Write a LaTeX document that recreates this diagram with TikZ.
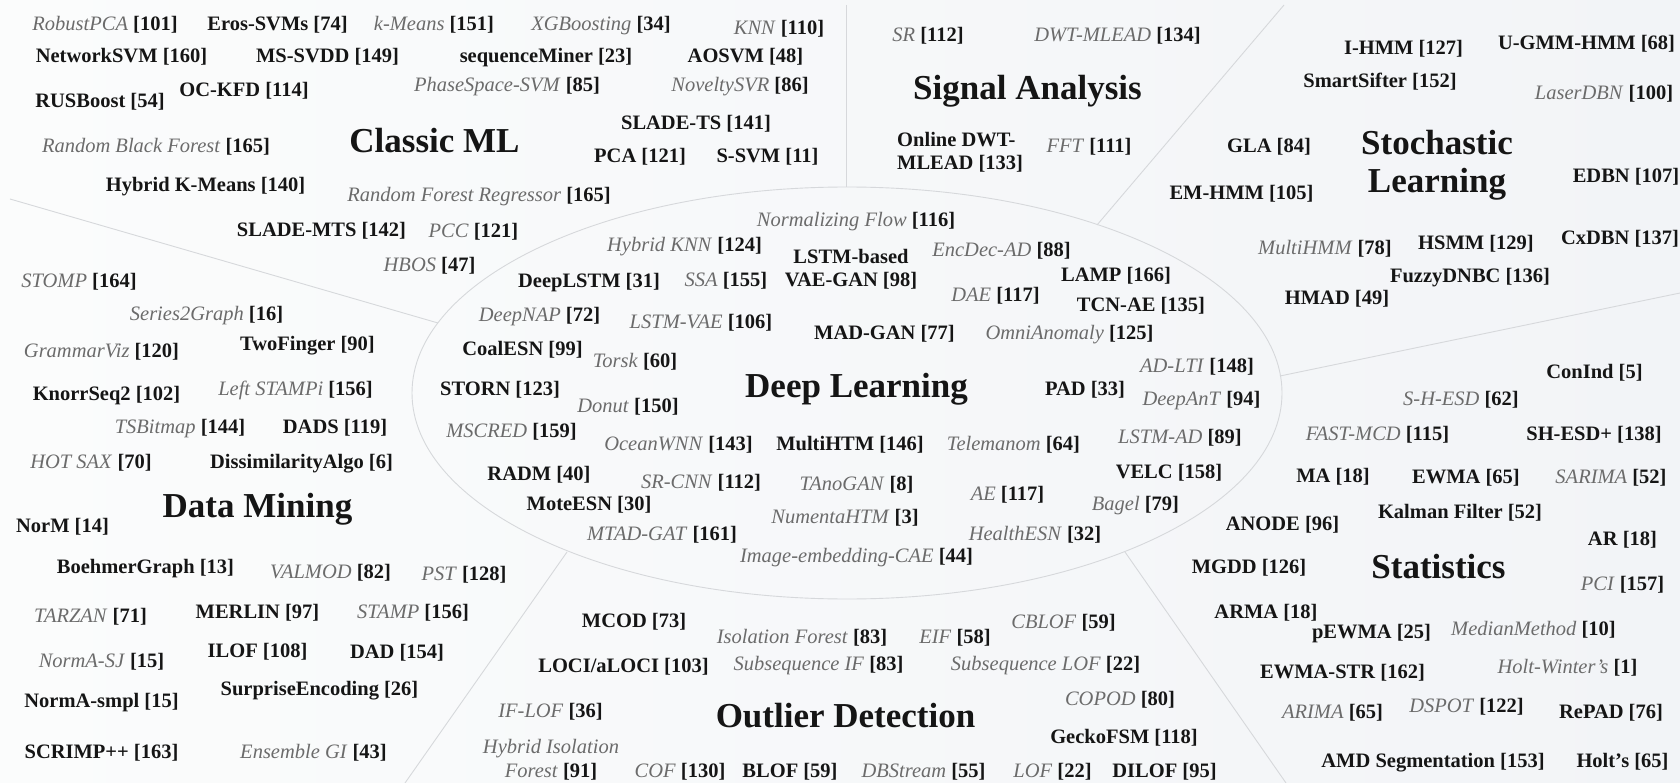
\documentclass[tikz,border=0pt]{standalone}
\usepackage{fontspec}
\setmainfont{Liberation Serif}
\definecolor{itg}{HTML}{6B6B6B}
\definecolor{blk}{HTML}{151515}
\definecolor{sepc}{HTML}{D6D8DB}
\definecolor{bgA}{HTML}{FBFCFC}
\definecolor{bgB}{HTML}{F2F4F7}
\tikzset{
 lbl/.style={anchor=base, inner sep=0pt, font=\fontsize{20.5}{23}\selectfont, text=blk},
 ttl/.style={anchor=base, inner sep=0pt, font=\fontsize{35}{38}\selectfont\bfseries, text=blk},
 sepline/.style={draw=sepc, line width=0.9pt},
}
\newcommand\mB[5]{\node[lbl] (#1) at (#2,#3) {\textbf{#4} \textbf{[#5]}};}
\newcommand\mI[5]{\node[lbl] (#1) at (#2,#3) {\textcolor{itg}{\textit{#4}} \textbf{[#5]}};}
\begin{document}
\begin{tikzpicture}[x=1pt,y=-1pt]
\useasboundingbox (0,0) rectangle (1680,783);
\shade[left color=bgA, right color=bgB] (0,0) rectangle (1680,783);
% core ellipse and sector separators
\draw[sepline] (847,393) ellipse [x radius=435, y radius=206];
\coordinate (v1) at (846,5);    \coordinate (v2) at (846,187);
\coordinate (ul1) at (10,199);  \coordinate (ul2) at (438,323);
\coordinate (ur1) at (1284,5);  \coordinate (ur2) at (1097,225);
\coordinate (r1) at (1680,293); \coordinate (r2) at (1280,376);
\coordinate (ll1) at (405,783); \coordinate (ll2) at (567,552);
\coordinate (lr1) at (1286,783);\coordinate (lr2) at (1125,552);
\draw[sepline] (v1) -- (v2);
\draw[sepline] (ul1) -- (ul2);
\draw[sepline] (ur1) -- (ur2);
\draw[sepline] (r1) -- (r2);
\draw[sepline] (ll1) -- (ll2);
\draw[sepline] (lr1) -- (lr2);
% ---------- Classic ML
\node[ttl] (tclassic) at (434.5,153) {Classic ML};
\mI{robustpca}{105}{31}{RobustPCA}{101}
\mB{eros}{277.5}{31}{Eros-SVMs}{74}
\mI{kmeans}{434}{31}{k-Means}{151}
\mI{xgb}{601}{31}{XGBoosting}{34}
\mI{knn}{779}{35}{KNN}{110}
\mB{networksvm}{121.5}{63}{NetworkSVM}{160}
\mB{mssvdd}{327.5}{63}{MS-SVDD}{149}
\mB{seqminer}{546}{63}{sequenceMiner}{23}
\mB{aosvm}{745.5}{63}{AOSVM}{48}
\mB{rusboost}{100}{108}{RUSBoost}{54}
\mB{ockfd}{244}{97}{OC-KFD}{114}
\mI{phasespace}{507}{92}{PhaseSpace-SVM}{85}
\mI{noveltysvr}{740}{92}{NoveltySVR}{86}
\mB{sladets}{696}{130}{SLADE-TS}{141}
\mI{rbf}{156}{153}{Random Black Forest}{165}
\mB{pca}{640}{163}{PCA}{121}
\mB{ssvm}{767.5}{163}{S-SVM}{11}
\mB{hkmeans}{205.5}{192}{Hybrid K-Means}{140}
\mI{rfr}{479}{202}{Random Forest Regressor}{165}
\mB{slademts}{321.5}{237}{SLADE-MTS}{142}
\mI{pcc}{473.5}{238}{PCC}{121}
\mI{hbos}{429.5}{272}{HBOS}{47}
% ---------- Signal Analysis
\node[ttl] (tsignal) at (1027.5,100) {Signal Analysis};
\mI{sr}{928}{42}{SR}{112}
\mI{dwtmlead}{1117.5}{42}{DWT-MLEAD}{134}
\node[lbl, anchor=base west] (onlinedwt) at (897,147) {\bfseries\begin{tabular}[t]{@{}l@{}}Online DWT-\\MLEAD [133]\end{tabular}};
\mI{fft}{1089}{153}{FFT}{111}
% ---------- Stochastic Learning
\node[ttl] (tstoch) at (1437,155) {\begin{tabular}[t]{@{}c@{}}Stochastic\\Learning\end{tabular}};
\mB{ihmm}{1403.5}{55}{I-HMM}{127}
\mB{ugmm}{1586.5}{50}{U-GMM-HMM}{68}
\mB{smartsifter}{1380}{88}{SmartSifter}{152}
\mI{laserdbn}{1604}{100}{LaserDBN}{100}
\mB{gla}{1269}{153}{GLA}{84}
\mB{emhmm}{1241.5}{200}{EM-HMM}{105}
\mB{edbn}{1626}{183}{EDBN}{107}
\mI{multihmm}{1325}{255}{MultiHMM}{78}
\mB{hsmm}{1476}{250}{HSMM}{129}
\mB{cxdbn}{1620}{245}{CxDBN}{137}
\mB{fuzzydnbc}{1470}{283}{FuzzyDNBC}{136}
\mB{hmad}{1337}{305}{HMAD}{49}
% ---------- Data Mining
\node[ttl] (tdm) at (257.5,517) {Data Mining};
\mI{stomp}{79}{288}{STOMP}{164}
\mI{series2graph}{206.5}{320}{Series2Graph}{16}
\mI{grammarviz}{101.5}{357}{GrammarViz}{120}
\mB{twofinger}{307.5}{350}{TwoFinger}{90}
\mB{knorrseq}{106.5}{400}{KnorrSeq2}{102}
\mI{leftstampi}{295.5}{395}{Left STAMPi}{156}
\mI{tsbitmap}{180}{433}{TSBitmap}{144}
\mB{dads}{335}{433}{DADS}{119}
\mI{hotsax}{91}{468}{HOT SAX}{70}
\mB{dissim}{301.5}{468}{DissimilarityAlgo}{6}
\mB{norm}{62.5}{532}{NorM}{14}
\mB{boehmer}{145.5}{573}{BoehmerGraph}{13}
\mI{valmod}{330.5}{578}{VALMOD}{82}
\mI{pst}{464}{580}{PST}{128}
\mI{tarzan}{90.5}{622}{TARZAN}{71}
\mB{merlin}{257.5}{618}{MERLIN}{97}
\mI{stamp}{413}{618}{STAMP}{156}
\mI{normasj}{101.5}{667}{NormA-SJ}{15}
\mB{ilof}{257.5}{657}{ILOF}{108}
\mB{dad}{397}{658}{DAD}{154}
\mB{normasmpl}{101.5}{707}{NormA-smpl}{15}
\mB{surprise}{319.5}{695}{SurpriseEncoding}{26}
\mB{scrimp}{101.5}{758}{SCRIMP++}{163}
\mI{ensemble}{313.5}{758}{Ensemble GI}{43}
% ---------- Deep Learning
\node[ttl] (tdl) at (856.5,397) {Deep Learning};
\mI{normflow}{856}{227}{Normalizing Flow}{116}
\mI{hybridknn}{684.5}{252}{Hybrid KNN}{124}
\mI{encdec}{1001.5}{257}{EncDec-AD}{88}
\node[lbl] (lstmvaegan) at (851,264) {\bfseries\begin{tabular}[t]{@{}c@{}}LSTM-based\\VAE-GAN [98]\end{tabular}};
\mB{lamp}{1116}{282}{LAMP}{166}
\mB{deeplstm}{589}{288}{DeepLSTM}{31}
\mI{ssa}{726}{287}{SSA}{155}
\mI{dae}{995.5}{302}{DAE}{117}
\mB{tcnae}{1141}{312}{TCN-AE}{135}
\mI{deepnap}{539.5}{322}{DeepNAP}{72}
\mI{lstmvae}{701}{328}{LSTM-VAE}{106}
\mB{madgan}{884.5}{340}{MAD-GAN}{77}
\mI{omni}{1069.5}{340}{OmniAnomaly}{125}
\mB{coalesn}{522.5}{355}{CoalESN}{99}
\mI{torsk}{635}{367}{Torsk}{60}
\mI{adlti}{1197}{372}{AD-LTI}{148}
\mB{storn}{500}{395}{STORN}{123}
\mB{pad}{1085}{395}{PAD}{33}
\mI{deepant}{1201.5}{405}{DeepAnT}{94}
\mI{donut}{628}{412}{Donut}{150}
\mI{mscred}{511.5}{437}{MSCRED}{159}
\mI{oceanwnn}{678.5}{450}{OceanWNN}{143}
\mB{multihtm}{850}{450}{MultiHTM}{146}
\mI{telemanom}{1013.5}{450}{Telemanom}{64}
\mI{lstmad}{1180}{443}{LSTM-AD}{89}
\mB{radm}{539}{480}{RADM}{40}
\mI{srcnn}{701}{488}{SR-CNN}{112}
\mI{tanogan}{856.5}{490}{TAnoGAN}{8}
\mB{velc}{1169}{478}{VELC}{158}
\mI{aeb}{1007.5}{500}{AE}{117}
\mB{moteesn}{589}{510}{MoteESN}{30}
\mI{numenta}{845}{523}{NumentaHTM}{3}
\mI{bagel}{1135.5}{510}{Bagel}{79}
\mI{mtadgat}{662}{540}{MTAD-GAT}{161}
\mI{healthesn}{1035}{540}{HealthESN}{32}
\mI{imgcae}{856.5}{562}{Image-embedding-CAE}{44}
% ---------- Statistics
\node[ttl] (tstat) at (1438.5,578) {Statistics};
\mB{conind}{1594.5}{378}{ConInd}{5}
\mI{shesd}{1461}{405}{S-H-ESD}{62}
\mI{fastmcd}{1377.5}{440}{FAST-MCD}{115}
\mB{shesdplus}{1594}{440}{SH-ESD+}{138}
\mB{ma}{1333}{482}{MA}{18}
\mB{ewma}{1466}{483}{EWMA}{65}
\mI{sarima}{1611}{483}{SARIMA}{52}
\mB{kalman}{1460}{518}{Kalman Filter}{52}
\mB{anode}{1282.5}{530}{ANODE}{96}
\mB{ar}{1622.5}{545}{AR}{18}
\mB{mgdd}{1249}{573}{MGDD}{126}
\mI{pci}{1622.5}{590}{PCI}{157}
\mB{arma}{1266}{618}{ARMA}{18}
\mB{pewma}{1371.5}{638}{pEWMA}{25}
\mI{median}{1533.5}{635}{MedianMethod}{10}
\mB{ewmastr}{1342.5}{678}{EWMA-STR}{162}
\mI{holtwinter}{1567.5}{673}{Holt-Winter’s}{1}
\mI{arima}{1332.5}{718}{ARIMA}{65}
\mI{dspot}{1466.5}{712}{DSPOT}{122}
\mB{repad}{1611}{718}{RePAD}{76}
\mB{amd}{1433}{767}{AMD Segmentation}{153}
\mB{holts}{1622.5}{767}{Holt’s}{65}
% ---------- Outlier Detection
\node[ttl] (tod) at (845.5,727) {Outlier Detection};
\mB{mcod}{634}{627}{MCOD}{73}
\mI{isoforest}{802}{643}{Isolation Forest}{83}
\mI{cblof}{1063.5}{628}{CBLOF}{59}
\mI{eif}{955}{643}{EIF}{58}
\mB{loci}{623.5}{672}{LOCI/aLOCI}{103}
\mI{subif}{818.5}{670}{Subsequence IF}{83}
\mI{sublof}{1045.5}{670}{Subsequence LOF}{22}
\mI{copod}{1120}{705}{COPOD}{80}
\mI{iflof}{550.5}{717}{IF-LOF}{36}
\mB{gecko}{1124}{743}{GeckoFSM}{118}
\node[lbl, font=\fontsize{20.5}{24}\selectfont] (hybridiso) at (551,753) {\begin{tabular}[t]{@{}c@{}}\textcolor{itg}{\textit{Hybrid Isolation}}\\\textcolor{itg}{\textit{Forest}} \textbf{[91]}\end{tabular}};
\mI{cof}{680}{777}{COF}{130}
\mB{blof}{790}{777}{BLOF}{59}
\mI{dbstream}{923.5}{777}{DBStream}{55}
\mI{lof}{1052.5}{777}{LOF}{22}
\mB{dilof}{1164.5}{777}{DILOF}{95}
\end{tikzpicture}
\end{document}
